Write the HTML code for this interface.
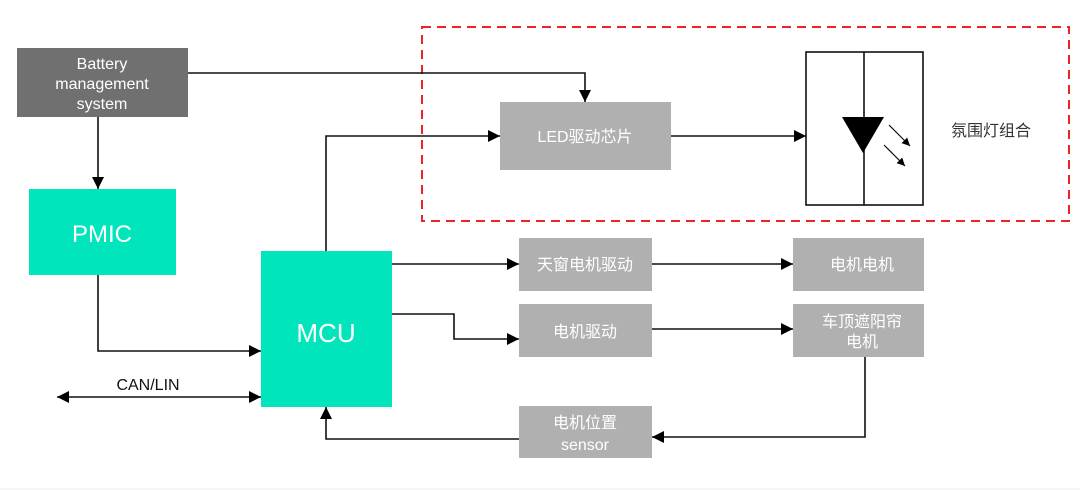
<!DOCTYPE html>
<html><head><meta charset="utf-8"><style>
html,body{margin:0;padding:0;background:#fff;width:1080px;height:490px;overflow:hidden}
svg{display:block}
text{font-family:"Liberation Sans","Noto Sans CJK SC",sans-serif}
</style></head><body>
<svg width="1080" height="490" viewBox="0 0 1080 490" xmlns="http://www.w3.org/2000/svg">
<defs>
<marker id="a" viewBox="0 0 10 10" refX="10" refY="5" markerWidth="12" markerHeight="12" markerUnits="userSpaceOnUse" orient="auto-start-reverse"><path d="M0,0L10,5L0,10z" fill="#000"/></marker>
<marker id="s" viewBox="0 0 10 10" refX="10" refY="5" markerWidth="8" markerHeight="8" markerUnits="userSpaceOnUse" orient="auto"><path d="M0,0L10,5L0,10z" fill="#000"/></marker>
</defs>
<line x1="0" y1="489" x2="1080" y2="489" stroke="#eee" stroke-width="1"/>
<rect x="422" y="27" width="647" height="194" fill="none" stroke="#e8262a" stroke-width="2" stroke-dasharray="9,6"/>
<g stroke="#111" stroke-width="1.6" fill="none">
<polyline points="188,73 585,73 585,102" marker-end="url(#a)"/>
<line x1="98" y1="117" x2="98" y2="189" marker-end="url(#a)"/>
<polyline points="98,275 98,351 261,351" marker-end="url(#a)"/>
<line x1="57" y1="397" x2="261" y2="397" marker-end="url(#a)" marker-start="url(#a)"/>
<polyline points="326,251 326,136 500,136" marker-end="url(#a)"/>
<line x1="671" y1="136" x2="806" y2="136" marker-end="url(#a)"/>
<line x1="392" y1="264" x2="519" y2="264" marker-end="url(#a)"/>
<polyline points="392,314 454,314 454,339 519,339" marker-end="url(#a)"/>
<line x1="652" y1="264" x2="793" y2="264" marker-end="url(#a)"/>
<line x1="652" y1="329" x2="793" y2="329" marker-end="url(#a)"/>
<polyline points="865,357 865,437 652,437" marker-end="url(#a)"/>
<polyline points="519,439 326,439 326,407" marker-end="url(#a)"/>
</g>
<rect x="17" y="48" width="171" height="69" fill="#707070"/>
<text x="102" y="69" font-size="16" fill="#fff" text-anchor="middle">Battery</text>
<text x="102" y="89" font-size="16" fill="#fff" text-anchor="middle">management</text>
<text x="102" y="109" font-size="16" fill="#fff" text-anchor="middle">system</text>
<rect x="29" y="189" width="147" height="86" fill="#00e5bc"/>
<text x="102" y="242" font-size="24" fill="#fff" text-anchor="middle">PMIC</text>
<rect x="261" y="251" width="131" height="156" fill="#00e5bc"/>
<text x="326" y="342" font-size="26" fill="#fff" text-anchor="middle">MCU</text>
<text x="148" y="390" font-size="16" fill="#111" text-anchor="middle">CAN/LIN</text>
<rect x="500" y="102" width="171" height="68" fill="#b0b0b0"/>
<text x="585" y="142" font-size="16" fill="#fff" text-anchor="middle">LED驱动芯片</text>
<rect x="806" y="52" width="117" height="153" fill="#fff" stroke="#111" stroke-width="1.6"/>
<line x1="864" y1="52" x2="864" y2="205" stroke="#111" stroke-width="1.6"/>
<polygon points="842,117 884,117 863,153" fill="#000"/>
<g stroke="#111" stroke-width="1.2">
<line x1="889" y1="125" x2="910" y2="146" marker-end="url(#s)"/>
<line x1="884" y1="145" x2="905" y2="166" marker-end="url(#s)"/>
</g>
<text x="951" y="136" font-size="16" fill="#333">氛围灯组合</text>
<rect x="519" y="238" width="133" height="53" fill="#b0b0b0"/>
<text x="585" y="270" font-size="16" fill="#fff" text-anchor="middle">天窗电机驱动</text>
<rect x="793" y="238" width="131" height="53" fill="#b0b0b0"/>
<text x="862" y="270" font-size="16" fill="#fff" text-anchor="middle">电机电机</text>
<rect x="519" y="304" width="133" height="53" fill="#b0b0b0"/>
<text x="585" y="337" font-size="16" fill="#fff" text-anchor="middle">电机驱动</text>
<rect x="793" y="304" width="131" height="53" fill="#b0b0b0"/>
<text x="862" y="327" font-size="16" fill="#fff" text-anchor="middle">车顶遮阳帘</text>
<text x="862" y="347" font-size="16" fill="#fff" text-anchor="middle">电机</text>
<rect x="519" y="406" width="133" height="52" fill="#b0b0b0"/>
<text x="585" y="428" font-size="16" fill="#fff" text-anchor="middle">电机位置</text>
<text x="585" y="450" font-size="16" fill="#fff" text-anchor="middle">sensor</text>
</svg>
</body></html>
